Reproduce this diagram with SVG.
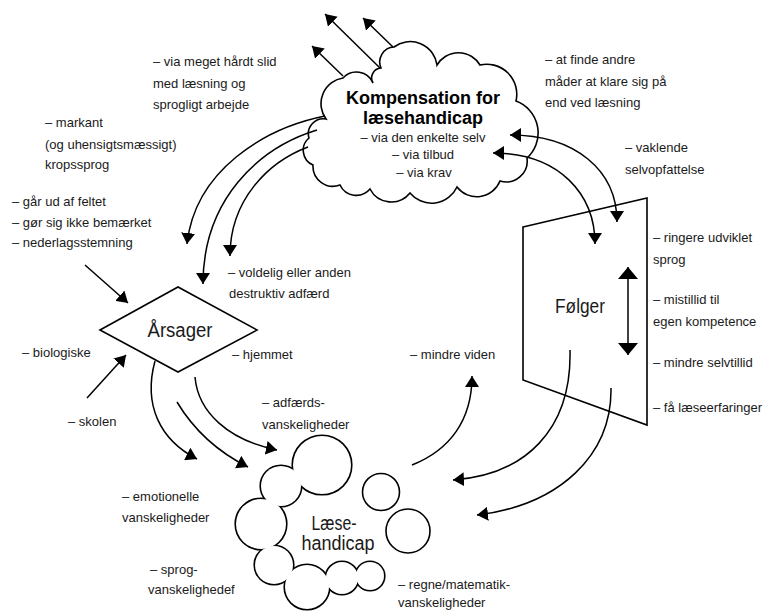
<svg xmlns="http://www.w3.org/2000/svg" width="764" height="612" viewBox="0 0 764 612">
<style>
.t{font-family:"Liberation Sans",Arial,sans-serif;font-size:13px;fill:#1a1a1a}
.c{text-anchor:middle}
.lbl{font-family:"Liberation Sans",Arial,sans-serif;font-size:20px;fill:#1a1a1a;text-anchor:middle}
.bold{font-family:"Liberation Sans",Arial,sans-serif;font-size:18px;font-weight:bold;fill:#000;text-anchor:middle}
.shape{fill:#fff;stroke:#000;stroke-width:1.6}
.conn path{fill:none;stroke:#000;stroke-width:1.5}
.ring circle{fill:none;stroke:#000;stroke-width:3.2}
.fillc circle{fill:#fff;stroke:none}
</style>
<defs>
<marker id="ah" viewBox="0 0 11 14" refX="11" refY="7" markerWidth="11" markerHeight="14" markerUnits="userSpaceOnUse" orient="auto-start-reverse">
<path d="M0,0 L11,7 L0,14 z" fill="#000"/>
</marker>
<marker id="ahb" viewBox="0 0 12 20" refX="12" refY="10" markerWidth="12" markerHeight="20" markerUnits="userSpaceOnUse" orient="auto-start-reverse">
<path d="M0,0 L12,10 L0,20 z" fill="#000"/>
</marker>
</defs>
<rect width="764" height="612" fill="#fff"/>

<g id="kompensation">
<path class="shape" d="M326,119 A26,26 0 0 1 343,78 A18,18 0 0 1 373,83 A10,10 0 0 1 381,68 A15,15 0 0 1 394,47 A27,27 0 0 1 437,65 A25,25 0 0 1 480,65 A30,30 0 0 1 516,101 A34,34 0 0 1 527,158 A21,21 0 0 1 500,181 A25,25 0 0 1 457,187 A28,28 0 0 1 410,193 A24,24 0 0 1 370,189 A18,18 0 0 1 340,185 A20,20 0 0 1 313,165 A16,16 0 0 1 309,138 A15,15 0 0 1 326,119 Z"/>
<text class="bold" x="423" y="104">Kompensation for</text>
<text class="bold" x="423" y="124">læsehandicap</text>
<text class="t c" x="423" y="142">– via den enkelte selv</text>
<text class="t c" x="423" y="159">– via tilbud</text>
<text class="t c" x="424" y="177">– via krav</text>
</g>

<g id="aarsager">
<polygon class="shape" points="100,330 178,287 257,330 178,372"/>
<text class="lbl" x="180" y="337" textLength="65" lengthAdjust="spacingAndGlyphs">Årsager</text>
</g>

<g id="foelger">
<polygon class="shape" points="523,227 647,198 647,425 523,380"/>
<text class="lbl" x="580" y="313" textLength="50" lengthAdjust="spacingAndGlyphs">Følger</text>
</g>

<g id="laesehandicap">
<g class="ring">
<circle cx="322" cy="465" r="29"/>
<circle cx="281" cy="486" r="20"/>
<circle cx="261" cy="524" r="25"/>
<circle cx="274" cy="565" r="19"/>
<circle cx="307" cy="587" r="22"/>
<circle cx="342" cy="578" r="16"/>
<circle cx="370" cy="576" r="14"/>
</g>
<g class="fillc">
<circle cx="322" cy="465" r="29"/>
<circle cx="281" cy="486" r="20"/>
<circle cx="261" cy="524" r="25"/>
<circle cx="274" cy="565" r="19"/>
<circle cx="307" cy="587" r="22"/>
<circle cx="342" cy="578" r="16"/>
<circle cx="370" cy="576" r="14"/>
</g>
<text class="lbl" x="334" y="530" textLength="45" lengthAdjust="spacingAndGlyphs">Læse-</text>
<text class="lbl" x="338" y="550" textLength="73" lengthAdjust="spacingAndGlyphs">handicap</text>
</g>

<g id="bubble1"><circle class="shape" cx="381" cy="492" r="18.5"/></g>
<g id="bubble2"><circle class="shape" cx="408" cy="531" r="22"/></g>

<g class="conn" id="connectors">
<path d="M343,76 L312,46" marker-end="url(#ah)"/>
<path d="M380,68 L325,14" marker-end="url(#ah)"/>
<path d="M393,47 L363,18" marker-end="url(#ah)"/>
<path d="M325,116 C265,128 195,170 187,244" marker-end="url(#ah)"/>
<path d="M317,130 C258,148 203,200 203,284" marker-end="url(#ah)"/>
<path d="M308,147 C268,162 230,200 230,256" marker-end="url(#ah)"/>
<path d="M85,265 L128,303" marker-end="url(#ah)"/>
<path d="M87,398 L126,355" marker-end="url(#ah)"/>
<path d="M155,361 C143,405 160,440 197,459" marker-end="url(#ah)"/>
<path d="M177,402 C195,432 218,452 248,467" marker-end="url(#ah)"/>
<path d="M195,377 C198,412 228,440 277,450" marker-end="url(#ah)"/>
<path d="M412,465 C450,450 472,420 472,376" marker-end="url(#ah)"/>
<path d="M570,350 C572,430 525,475 453,480" marker-end="url(#ah)"/>
<path d="M611,388 C612,455 560,505 477,515" marker-end="url(#ah)"/>
<path d="M510,135 C575,135 617,170 617,222" marker-start="url(#ah)" marker-end="url(#ah)"/>
<path d="M493,153 C560,153 595,195 595,244" marker-start="url(#ah)" marker-end="url(#ah)"/>
<path d="M628,267 L628,355" stroke-width="2.5" marker-start="url(#ahb)" marker-end="url(#ahb)"/>
</g>

<g id="labels">
<text class="t" x="153" y="66">– via meget hårdt slid</text>
<text class="t" x="153" y="88">med læsning og</text>
<text class="t" x="153" y="109">sprogligt arbejde</text>
<text class="t" x="545" y="64">– at finde andre</text>
<text class="t" x="545" y="86">måder at klare sig på</text>
<text class="t" x="545" y="107">end ved læsning</text>
<text class="t" x="625" y="152">– vaklende</text>
<text class="t" x="625" y="174">selvopfattelse</text>
<text class="t" x="45" y="127">– markant</text>
<text class="t" x="45" y="149">(og uhensigtsmæssigt)</text>
<text class="t" x="45" y="169">kropssprog</text>
<text class="t" x="12" y="206">– går ud af feltet</text>
<text class="t" x="12" y="227">– gør sig ikke bemærket</text>
<text class="t" x="12" y="247">– nederlagsstemning</text>
<text class="t" x="228" y="277">– voldelig eller anden</text>
<text class="t" x="229" y="298">destruktiv adfærd</text>
<text class="t" x="232" y="359">– hjemmet</text>
<text class="t" x="22" y="357">– biologiske</text>
<text class="t" x="68" y="426">– skolen</text>
<text class="t" x="262" y="407">– adfærds-</text>
<text class="t" x="262" y="429">vanskeligheder</text>
<text class="t" x="410" y="359">– mindre viden</text>
<text class="t" x="653" y="242">– ringere udviklet</text>
<text class="t" x="653" y="264">sprog</text>
<text class="t" x="653" y="304">– mistillid til</text>
<text class="t" x="653" y="326">egen kompetence</text>
<text class="t" x="653" y="367">– mindre selvtillid</text>
<text class="t" x="653" y="412">– få læseerfaringer</text>
<text class="t" x="122" y="501">– emotionelle</text>
<text class="t" x="122" y="522">vanskeligheder</text>
<text class="t" x="150" y="574">– sprog-</text>
<text class="t" x="148" y="594">vanskelighedef</text>
<text class="t" x="398" y="589">– regne/matematik-</text>
<text class="t" x="398" y="607">vanskeligheder</text>
</g>
</svg>
